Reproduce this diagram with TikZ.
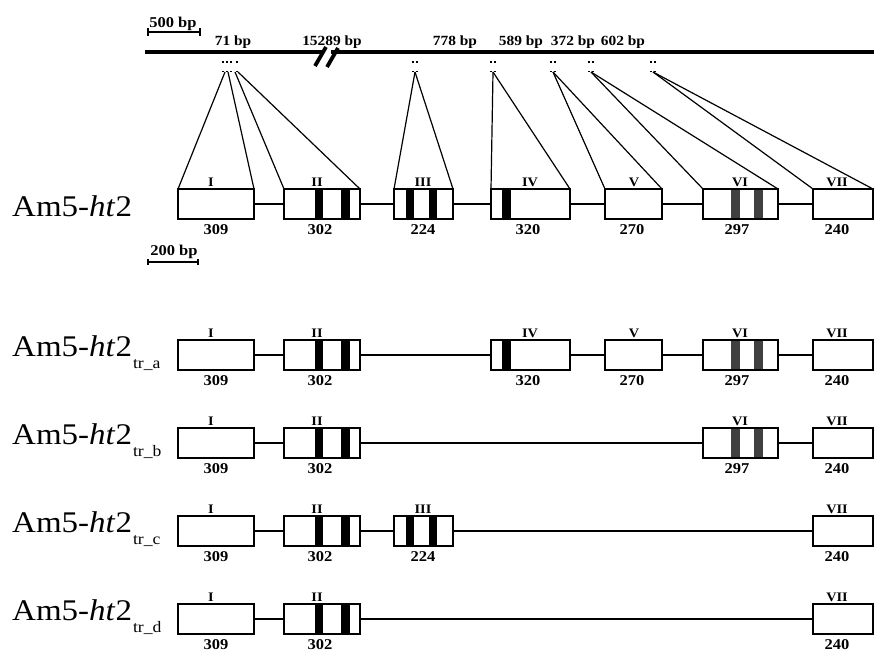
\documentclass[tikz,border=0pt]{standalone}
\usepackage{fontspec}
\setmainfont{Liberation Serif}[FakeStretch=1.1]
\newcommand\myexon[8]{%
  \node[exon, minimum width=#3pt] (#1) at (#2,#4) {};
  \node[rom] (#1r) at (#5,#4-7) {#6};
  \node[num] (#1n) at (#7,#4+41) {#8};
}
\newcommand\mystripe[4]{\fill[#4] (#1,#3+1) rectangle (#2,#3+29);}
\newcommand\mydots[1]{\fill (#1-2.8,61) rectangle (#1-1.2,62.8); \fill (#1+1.2,61) rectangle (#1+2.8,62.8);
  \fill (#1-2.8,70.5) rectangle (#1-1.2,72.3); \fill (#1+1.2,70.5) rectangle (#1+2.8,72.3);}
\newcommand\mysub[1]{\kern1pt\raisebox{-12pt}{\fontsize{16}{16}\selectfont #1}}
\begin{document}
\begin{tikzpicture}[x=1pt,y=-1pt,
  exon/.style={draw, line width=1.8pt, fill=white, minimum height=30pt, inner sep=0pt, outer sep=0pt, anchor=north west},
  intron/.style={line width=1.4pt},
  tri/.style={line width=1.2pt},
  num/.style={font=\bfseries\fontsize{15}{15}\selectfont, inner sep=0pt},
  rom/.style={font=\bfseries\fontsize{13}{13}\selectfont, inner sep=0pt},
  bp/.style={font=\bfseries\fontsize{14}{14}\selectfont, inner sep=0pt, anchor=base},
  scl/.style={font=\bfseries\fontsize{15}{15}\selectfont, inner sep=0pt, anchor=base},
  rowlab/.style={font=\fontsize{30}{30}\selectfont, inner sep=0pt, anchor=base west},
  ]
\useasboundingbox (0,0) rectangle (874,653);
\definecolor{stripegray}{RGB}{64,64,64}

% scale bars
\node[scl] (s500) at (173,27) {500 bp};
\coordinate (s500a) at (148,32); \coordinate (s500b) at (200,32);
\draw[line width=1.5pt] (s500a) -- (s500b);
\draw[line width=1.5pt] (148,28) -- (148,36) (200,28) -- (200,36);
\node[scl] (s200) at (174,255) {200 bp};
\coordinate (s200a) at (148,262); \coordinate (s200b) at (198,262);
\draw[line width=1.5pt] (s200a) -- (s200b);
\draw[line width=1.5pt] (148,259) -- (148,265) (198,259) -- (198,265);

% genomic line
\coordinate (g0) at (145,52); \coordinate (g1) at (323,52);
\coordinate (g2) at (331,52); \coordinate (g3) at (874,52);
\draw[line width=4pt] (g0) -- (g1);
\draw[line width=4pt] (g2) -- (g3);
\draw[line width=3.8pt] (315,66) -- (326,47);
\draw[line width=3.8pt] (327,67) -- (338,48);

% bp labels
\node[bp] (l71) at (233,45) {71 bp};
\node[bp] (l15289) at (332,45) {15289 bp};
\node[bp] (l778) at (455,45) {778 bp};
\node[bp] (l589) at (521,45) {589 bp};
\node[bp] (l372) at (573,45) {372 bp};
\node[bp] (l602) at (623,45) {602 bp};

% dots at exon positions
\foreach \x in {223,227,231,237} {\fill (\x-0.8,61) rectangle (\x+0.8,62.8); \fill (\x-0.8,70.5) rectangle (\x+0.8,72.3);}
\mydots{415}
\mydots{493}
\mydots{553}
\mydots{591}
\mydots{653}
\coordinate (a1) at (225,72); \coordinate (a2) at (228,72);
\coordinate (a3) at (235,72); \coordinate (a4) at (238,72);
\coordinate (a5) at (415,72); \coordinate (a6) at (493,72);
\coordinate (a7) at (553,72); \coordinate (a8) at (591,72);
\coordinate (a9) at (653,72);

% row 0
\node[rowlab] (lab0) at (12,216) {Am5-\textit{ht}2};
\myexon{r0e1}{178}{76}{189}{211}{I}{216}{309}
\myexon{r0e2}{284}{76}{189}{317}{II}{320}{302}
\mystripe{315}{323}{189}{black}\mystripe{341}{350}{189}{black}
\myexon{r0e3}{394}{59}{189}{423}{III}{423}{224}
\mystripe{406}{414}{189}{black}\mystripe{429}{437}{189}{black}
\myexon{r0e4}{491}{79}{189}{530}{IV}{528}{320}
\mystripe{502}{511}{189}{black}
\myexon{r0e5}{605}{57}{189}{634}{V}{632}{270}
\myexon{r0e6}{703}{75}{189}{740}{VI}{737}{297}
\mystripe{731}{740}{189}{stripegray}\mystripe{754}{763}{189}{stripegray}
\myexon{r0e7}{813}{60}{189}{837}{VII}{837}{240}
\draw[intron] (r0e1.east) -- (r0e2.west);
\draw[intron] (r0e2.east) -- (r0e3.west);
\draw[intron] (r0e3.east) -- (r0e4.west);
\draw[intron] (r0e4.east) -- (r0e5.west);
\draw[intron] (r0e5.east) -- (r0e6.west);
\draw[intron] (r0e6.east) -- (r0e7.west);
\draw[tri] (a1) -- (r0e1.north west);
\draw[tri] (a2) -- (r0e1.north east);
\draw[tri] (a3) -- (r0e2.north west);
\draw[tri] (a4) -- (r0e2.north east);
\draw[tri] (a5) -- (r0e3.north west);
\draw[tri] (a5) -- (r0e3.north east);
\draw[tri] (a6) -- (r0e4.north west);
\draw[tri] (a6) -- (r0e4.north east);
\draw[tri] (a7) -- (r0e5.north west);
\draw[tri] (a7) -- (r0e5.north east);
\draw[tri] (a8) -- (r0e6.north west);
\draw[tri] (a8) -- (r0e6.north east);
\draw[tri] (a9) -- (r0e7.north west);
\draw[tri] (a9) -- (r0e7.north east);

% row a
\node[rowlab] (laba) at (12,356) {Am5-\textit{ht}2\mysub{tr\_a}};
\myexon{rae1}{178}{76}{340}{211}{I}{216}{309}
\myexon{rae2}{284}{76}{340}{317}{II}{320}{302}
\mystripe{315}{323}{340}{black}\mystripe{341}{350}{340}{black}
\myexon{rae4}{491}{79}{340}{530}{IV}{528}{320}
\mystripe{502}{511}{340}{black}
\myexon{rae5}{605}{57}{340}{634}{V}{632}{270}
\myexon{rae6}{703}{75}{340}{740}{VI}{737}{297}
\mystripe{731}{740}{340}{stripegray}\mystripe{754}{763}{340}{stripegray}
\myexon{rae7}{813}{60}{340}{837}{VII}{837}{240}
\draw[intron] (rae1.east) -- (rae2.west);
\draw[intron] (rae2.east) -- (rae4.west);
\draw[intron] (rae4.east) -- (rae5.west);
\draw[intron] (rae5.east) -- (rae6.west);
\draw[intron] (rae6.east) -- (rae7.west);

% row b
\node[rowlab] (labb) at (12,444) {Am5-\textit{ht}2\mysub{tr\_b}};
\myexon{rbe1}{178}{76}{428}{211}{I}{216}{309}
\myexon{rbe2}{284}{76}{428}{317}{II}{320}{302}
\mystripe{315}{323}{428}{black}\mystripe{341}{350}{428}{black}
\myexon{rbe6}{703}{75}{428}{740}{VI}{737}{297}
\mystripe{731}{740}{428}{stripegray}\mystripe{754}{763}{428}{stripegray}
\myexon{rbe7}{813}{60}{428}{837}{VII}{837}{240}
\draw[intron] (rbe1.east) -- (rbe2.west);
\draw[intron] (rbe2.east) -- (rbe6.west);
\draw[intron] (rbe6.east) -- (rbe7.west);

% row c
\node[rowlab] (labc) at (12,532) {Am5-\textit{ht}2\mysub{tr\_c}};
\myexon{rce1}{178}{76}{516}{211}{I}{216}{309}
\myexon{rce2}{284}{76}{516}{317}{II}{320}{302}
\mystripe{315}{323}{516}{black}\mystripe{341}{350}{516}{black}
\myexon{rce3}{394}{59}{516}{423}{III}{423}{224}
\mystripe{406}{414}{516}{black}\mystripe{429}{437}{516}{black}
\myexon{rce7}{813}{60}{516}{837}{VII}{837}{240}
\draw[intron] (rce1.east) -- (rce2.west);
\draw[intron] (rce2.east) -- (rce3.west);
\draw[intron] (rce3.east) -- (rce7.west);

% row d
\node[rowlab] (labd) at (12,620) {Am5-\textit{ht}2\mysub{tr\_d}};
\myexon{rde1}{178}{76}{604}{211}{I}{216}{309}
\myexon{rde2}{284}{76}{604}{317}{II}{320}{302}
\mystripe{315}{323}{604}{black}\mystripe{341}{350}{604}{black}
\myexon{rde7}{813}{60}{604}{837}{VII}{837}{240}
\draw[intron] (rde1.east) -- (rde2.west);
\draw[intron] (rde2.east) -- (rde7.west);
\end{tikzpicture}
\end{document}
